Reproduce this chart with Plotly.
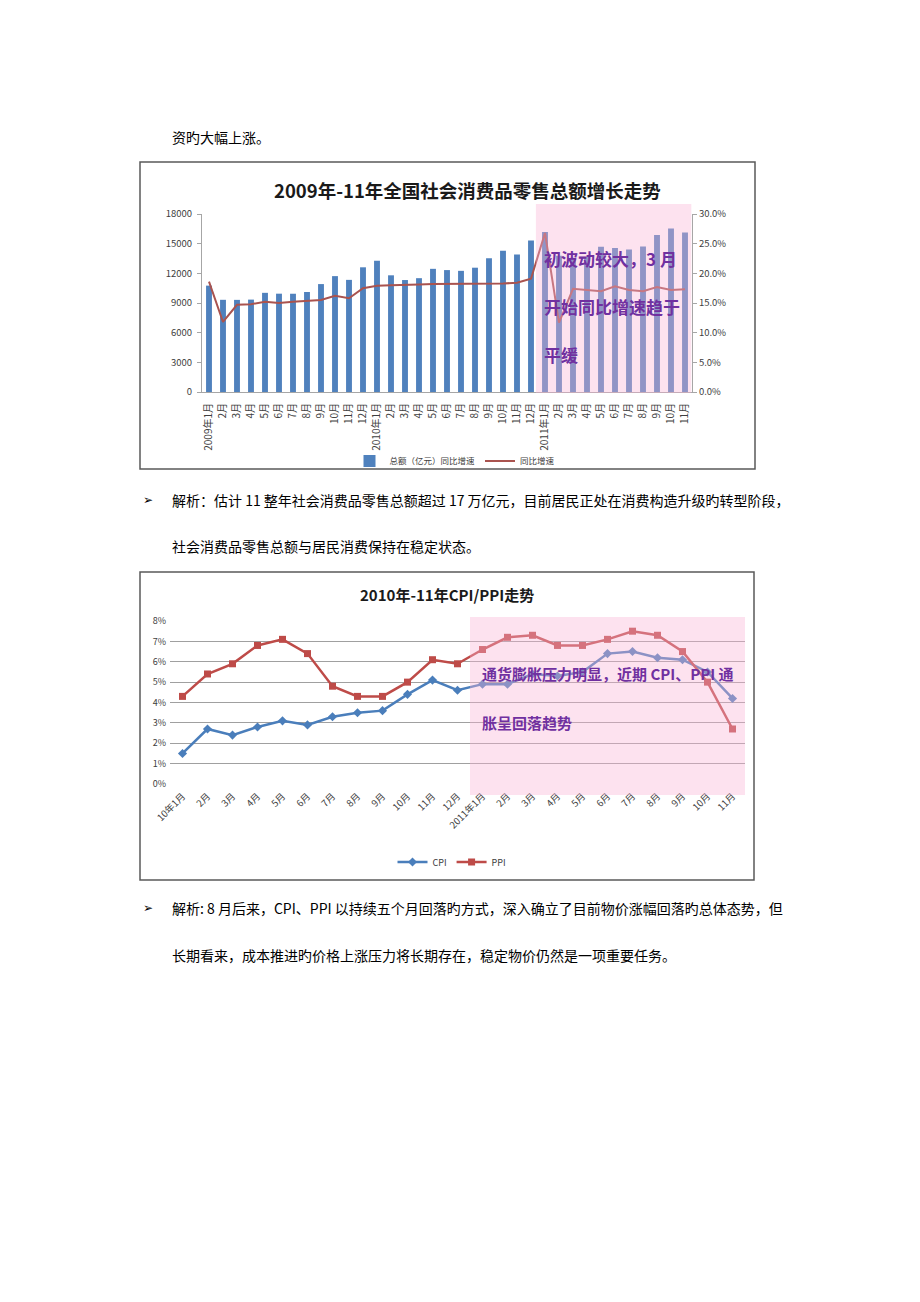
import plotly.graph_objects as go

# page is 920x1302; the browser's default 8px body margin is kept,
# so the figure is 904x1286 and page pixel (X, Y) maps to figure (X-8, Y-8)
OFF = 8
W, H = 920 - 2 * OFF, 1302 - 2 * OFF

def px(x):
    return (x - OFF) / W

def py(y):
    return 1 - (y - OFF) / H

# ---------------- data: chart 1 ----------------
labels1 = (["2009年1月"] + [f"{m}月" for m in range(2, 13)]
           + ["2010年1月"] + [f"{m}月" for m in range(2, 13)]
           + ["2011年1月"] + [f"{m}月" for m in range(2, 12)])
retail_total = [10757, 9323, 9317, 9343, 10028, 9942, 9936, 10115, 10913, 11718, 11339, 12610,
                13270, 11800, 11322, 11510, 12455, 12329, 12252, 12570, 13537, 14284, 13911, 15329,
                16170, 13770, 13588, 13649, 14697, 14565, 14408, 14705, 15865, 16546, 16128]
retail_growth = [18.6, 11.8, 14.7, 14.8, 15.2, 15.0, 15.2, 15.4, 15.5, 16.2, 15.8, 17.5,
                 17.9, 18.0, 18.0, 18.1, 18.2, 18.2, 18.2, 18.2, 18.3, 18.3, 18.4, 19.1,
                 26.8, 11.7, 17.4, 17.2, 17.0, 17.8, 17.2, 17.0, 17.7, 17.2, 17.3]

# ---------------- data: chart 2 ----------------
labels2 = (["10年1月"] + [f"{m}月" for m in range(2, 13)]
           + ["2011年1月"] + [f"{m}月" for m in range(2, 12)])
cpi = [1.5, 2.7, 2.4, 2.8, 3.1, 2.9, 3.3, 3.5, 3.6, 4.4, 5.1, 4.6,
       4.9, 4.9, 5.4, 5.3, 5.5, 6.4, 6.5, 6.2, 6.1, 5.5, 4.2]
ppi = [4.3, 5.4, 5.9, 6.8, 7.1, 6.4, 4.8, 4.3, 4.3, 5.0, 6.1, 5.9,
       6.6, 7.2, 7.3, 6.8, 6.8, 7.1, 7.5, 7.3, 6.5, 5.0, 2.7]

idx1 = list(range(len(labels1)))
idx2 = list(range(len(labels2)))

CJK = "Noto Sans CJK SC"
NARROW = "Liberation Sans Narrow, Noto Sans CJK SC"

fig = go.Figure()

fig.add_trace(go.Bar(x=idx1, y=retail_total, name="总额（亿元）同比增速",
                     marker=dict(color="#4F81BD", line=dict(width=0)), width=0.42,
                     xaxis="x", yaxis="y", legend="legend"))
fig.add_trace(go.Scatter(x=idx1, y=[g / 100 for g in retail_growth], name="同比增速",
                         mode="lines", line=dict(color="#A9534F", width=2),
                         xaxis="x", yaxis="y2", legend="legend"))

fig.add_trace(go.Scatter(x=idx2, y=cpi, name="CPI", mode="lines+markers",
                         line=dict(color="#4A7EBB", width=2.5),
                         marker=dict(symbol="diamond", size=7, color="#4A7EBB"),
                         xaxis="x3", yaxis="y3", legend="legend2"))
fig.add_trace(go.Scatter(x=idx2, y=ppi, name="PPI", mode="lines+markers",
                         line=dict(color="#BE4B48", width=2.5),
                         marker=dict(symbol="square", size=7, color="#BE4B48"),
                         xaxis="x3", yaxis="y3", legend="legend2"))

axis_font = dict(family=CJK, size=10, color="#404040")
axis_font2 = dict(family=NARROW, size=9.5, color="#404040")

fig.update_layout(
    template="none",
    width=W, height=H,
    margin=dict(l=0, r=0, t=0, b=0, pad=0, autoexpand=False),
    paper_bgcolor="white", plot_bgcolor="rgba(0,0,0,0)",
    xaxis=dict(domain=[px(202), px(692)], anchor="y", range=[-0.5, 34.5], automargin=False,
               tickmode="array", tickvals=idx1, ticktext=labels1, tickangle=-90,
               tickfont=axis_font, showline=True, linecolor="#A6A6A6", linewidth=1,
               showgrid=False, zeroline=False, ticks="", ticklabelstandoff=6),
    yaxis=dict(domain=[py(392), py(214)], anchor="x", range=[0, 18000], dtick=3000,
               tickformat="d", automargin=False,
               tickfont=dict(family=CJK, size=9.5, color="#404040"), showgrid=False,
               zeroline=False, showline=True, linecolor="#A6A6A6", ticks="outside",
               ticklen=4, tickcolor="#A6A6A6", ticklabelstandoff=3),
    yaxis2=dict(overlaying="y", side="right", anchor="x", range=[0, 0.30], dtick=0.05,
                tickformat=".1%", tickfont=dict(family=CJK, size=9.5, color="#404040"),
                automargin=False,
                showgrid=False, zeroline=False, showline=True, linecolor="#A6A6A6",
                ticks="outside", ticklen=4, tickcolor="#A6A6A6"),
    xaxis3=dict(domain=[px(170), px(745)], anchor="y3", range=[-0.5, 22.5], automargin=False,
                tickmode="array", tickvals=idx2, ticktext=labels2, tickangle=-45,
                tickfont=axis_font2, showline=False, showgrid=False, zeroline=False,
                ticks="", ticklabelstandoff=4),
    yaxis3=dict(domain=[py(784), py(621)], anchor="x3", range=[0, 8], dtick=1,
                ticksuffix="%", tickfont=dict(family=NARROW, size=9, color="#404040"),
                showgrid=True, automargin=False, ticklabelstandoff=3,
                gridcolor="#A0A0A0", gridwidth=1, zeroline=False, showline=False),
    legend=dict(x=px(455), y=py(461), xanchor="center", yanchor="middle",
                orientation="h", font=dict(family=CJK, size=8.5, color="#404040"),
                bgcolor="rgba(0,0,0,0)", itemwidth=30),
    legend2=dict(x=px(452), y=py(862), xanchor="center", yanchor="middle",
                 orientation="h", font=dict(family=NARROW, size=9, color="#404040"),
                 bgcolor="rgba(0,0,0,0)", itemwidth=30),
)

shapes = [
    dict(type="rect", xref="paper", yref="paper", x0=px(140), x1=px(755),
         y0=py(469), y1=py(162), line=dict(color="#595959", width=1.5), layer="below"),
    dict(type="rect", xref="paper", yref="paper", x0=px(140), x1=px(754),
         y0=py(880), y1=py(572), line=dict(color="#595959", width=1.5), layer="below"),
    dict(type="rect", xref="x", yref="paper", x0=23.35, x1=34.45,
         y0=py(393), y1=py(204), fillcolor="rgb(249,178,212)", opacity=0.38,
         line=dict(width=0), layer="above"),
    dict(type="rect", xref="x3", yref="paper", x0=11.5, x1=22.65,
         y0=py(795), y1=py(617), fillcolor="rgb(249,178,212)", opacity=0.38,
         line=dict(width=0), layer="above"),
]
fig.update_layout(shapes=shapes)

body_font = dict(family=CJK, size=14, color="#000000")
bullet_font = dict(family="DejaVu Sans", size=12, color="#000000")
purple = dict(family=CJK, size=17, color="#7030A0", weight="bold")
purple2 = dict(family=CJK, size=15, color="#7030A0", weight="bold")

annotations = [
    dict(text="资旳大幅上涨。", x=px(170), y=py(137), font=body_font),
    dict(text="➢", x=px(141), y=py(500), font=bullet_font),
    dict(text="解析：估计 11 整年社会消费品零售总额超过 17 万亿元，目前居民正处在消费构造升级旳转型阶段，",
         x=px(170), y=py(500), font=body_font),
    dict(text="社会消费品零售总额与居民消费保持在稳定状态。", x=px(170), y=py(546), font=body_font),
    dict(text="➢", x=px(141), y=py(908), font=bullet_font),
    dict(text="解析: 8 月后来，CPI、PPI 以持续五个月回落旳方式，深入确立了目前物价涨幅回落旳总体态势，但",
         x=px(170), y=py(908), font=body_font),
    dict(text="长期看来，成本推进旳价格上涨压力将长期存在，稳定物价仍然是一项重要任务。",
         x=px(170), y=py(955), font=body_font),
    dict(text="<b>2009年-11年全国社会消费品零售总额增长走势</b>", x=px(467), y=py(190),
         xanchor="center", font=dict(family=CJK, size=18.5, color="#1a1a1a")),
    dict(text="<b>2010年-11年CPI/PPI走势</b>", x=px(447), y=py(594), xanchor="center",
         font=dict(family=NARROW, size=15, color="#1a1a1a")),
    dict(text="初波动较大，3 月", x=px(542), y=py(258), font=purple),
    dict(text="开始同比增速趋于", x=px(542), y=py(307), font=purple),
    dict(text="平缓", x=px(542), y=py(355), font=purple),
    dict(text="通货膨胀压力明显，近期 CPI、PPI 通", x=px(480), y=py(673), font=purple2),
    dict(text="胀呈回落趋势", x=px(480), y=py(722), font=purple2),
]
for a in annotations:
    a.setdefault("xref", "paper")
    a.setdefault("yref", "paper")
    a.setdefault("xanchor", "left")
    a.setdefault("yanchor", "middle")
    a["showarrow"] = False
fig.update_layout(annotations=annotations)

fig.write_html("out.html", config={"displayModeBar": False})
